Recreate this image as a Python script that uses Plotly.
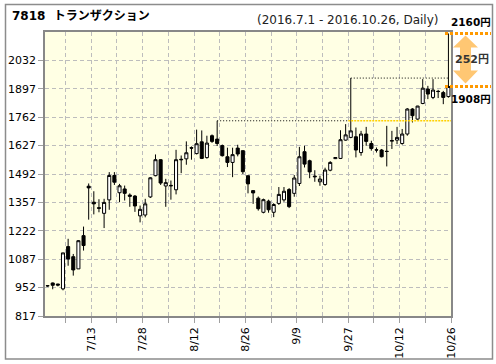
import numpy as np
import plotly.graph_objects as go

# ---------------- data ----------------
dates = ["7/1", "7/4", "7/5", "7/6", "7/7", "7/8", "7/11", "7/12", "7/13", "7/14", "7/15",
         "7/19", "7/20", "7/21", "7/22", "7/25", "7/26", "7/27", "7/28", "7/29",
         "8/1", "8/2", "8/3", "8/4", "8/5", "8/8", "8/9", "8/10", "8/12", "8/15", "8/16",
         "8/17", "8/18", "8/19", "8/22", "8/23", "8/24", "8/25", "8/26", "8/29", "8/30", "8/31",
         "9/1", "9/2", "9/5", "9/6", "9/7", "9/8", "9/9", "9/12", "9/13", "9/14", "9/15",
         "9/16", "9/20", "9/21", "9/23", "9/26", "9/27", "9/28", "9/29", "9/30",
         "10/3", "10/4", "10/5", "10/6", "10/7", "10/11", "10/12", "10/13", "10/14",
         "10/17", "10/18", "10/19", "10/20", "10/21", "10/24", "10/25", "10/26"]

opens = [960, 974, 969, 946, 1147, 1099, 1041, 1199, 1434, 1358, 1332,
         1305, 1369, 1485, 1403, 1421, 1392, 1387, 1293, 1297,
         1383, 1484, 1560, 1435, 1438, 1417, 1562, 1564, 1617, 1589, 1645,
         1570, 1674, 1658, 1627, 1574, 1547, 1615, 1603, 1484, 1413, 1377,
         1310, 1363, 1310, 1352, 1369, 1418, 1400, 1447, 1598, 1555, 1482,
         1455, 1442, 1510, 1565, 1566, 1653, 1666, 1669, 1594,
         1682, 1637, 1607, 1606, 1600, 1648, 1653, 1637, 1682,
         1801, 1753, 1827, 1896, 1856, 1885, 1879, 1860]
highs = [964, 976, 970, 1117, 1184, 1112, 1178, 1242, 1447, 1410, 1372,
         1374, 1501, 1501, 1445, 1437, 1400, 1392, 1342, 1374,
         1477, 1585, 1562, 1469, 1461, 1607, 1580, 1647, 1623, 1703, 1699,
         1674, 1680, 1745, 1632, 1617, 1617, 1631, 1603, 1484, 1413, 1385,
         1375, 1370, 1353, 1430, 1430, 1425, 1487, 1621, 1626, 1560, 1510,
         1484, 1522, 1553, 1572, 1700, 1729, 1948, 1713, 1697,
         1716, 1650, 1618, 1611, 1721, 1697, 1716, 1706, 1805,
         1805, 1816, 1943, 1911, 1943, 1892, 1887, 2160]
lows = [956, 944, 958, 939, 1056, 1009, 1041, 1128, 1275, 1300, 1310,
        1235, 1322, 1440, 1358, 1366, 1336, 1312, 1262, 1286,
        1378, 1481, 1440, 1336, 1370, 1395, 1496, 1536, 1560, 1585, 1563,
        1565, 1640, 1625, 1575, 1525, 1477, 1576, 1492, 1400, 1350, 1318,
        1305, 1308, 1287, 1345, 1360, 1330, 1384, 1435, 1523, 1472, 1455,
        1436, 1436, 1505, 1563, 1563, 1650, 1662, 1571, 1579,
        1626, 1603, 1594, 1571, 1528, 1611, 1634, 1631, 1674,
        1737, 1750, 1824, 1848, 1848, 1853, 1824, 1855]
closes = [961, 963, 964, 1117, 1088, 1036, 1175, 1152, 1426, 1350, 1329,
          1357, 1485, 1453, 1436, 1400, 1386, 1340, 1324, 1350,
          1474, 1560, 1449, 1451, 1436, 1560, 1560, 1593, 1615, 1636, 1566,
          1639, 1647, 1637, 1579, 1547, 1584, 1587, 1503, 1445, 1402, 1327,
          1370, 1322, 1347, 1395, 1410, 1337, 1473, 1574, 1539, 1502, 1479,
          1468, 1511, 1547, 1570, 1655, 1678, 1697, 1606, 1682,
          1647, 1613, 1606, 1574, 1599, 1651, 1666, 1682, 1801,
          1769, 1815, 1900, 1872, 1891, 1884, 1856, 1908]

y_ticks = [817, 952, 1087, 1222, 1357, 1492, 1627, 1762, 1897, 2032]
title_text = "7818  トランザクション"
period_text = "(2016.7.1 - 2016.10.26, Daily)"
unit = "円"

# ---------------- figure ----------------
W, H = 496, 364
ML, MR, MT, MB = 45, 45, 32, 48
PW, PH = W - ML - MR, H - MT - MB


def px(xpix):
    return (xpix - ML) / PW


def py(ypix):
    return (H - MB - ypix) / PH


n = len(dates)
xi = list(range(n))
FONT = "Verdana, 'DejaVu Sans', 'Noto Sans CJK JP', sans-serif"

fig = go.Figure()

fig.add_trace(go.Candlestick(
    x=xi, open=opens, high=highs, low=lows, close=closes,
    increasing=dict(line=dict(color="black", width=1), fillcolor="white"),
    decreasing=dict(line=dict(color="black", width=1), fillcolor="black"),
    whiskerwidth=0, showlegend=False, hoverinfo="skip"))

# resistance lines derived from highs
hi = np.array(highs)
last = n - 1
i2 = int(np.argmax(hi[:last]))
i1 = int(np.argmax(hi[:i2]))
fig.add_trace(go.Scatter(x=[i1, i2 - 0.5], y=[highs[i1]] * 2, mode="lines",
                         line=dict(color="#000000", width=1, dash="1px,2px"),
                         hoverinfo="skip", showlegend=False))
fig.add_trace(go.Scatter(x=[i2 - 0.5, last + 0.5], y=[highs[i1]] * 2, mode="lines",
                         line=dict(color="#FFD000", width=1.5, dash="2px,1px"),
                         hoverinfo="skip", showlegend=False))
fig.add_trace(go.Scatter(x=[i2, last], y=[highs[i2]] * 2, mode="lines",
                         line=dict(color="#000000", width=1, dash="1px,2px"),
                         hoverinfo="skip", showlegend=False))

shapes = []
# outer frame
shapes.append(dict(type="rect", xref="paper", yref="paper",
                   x0=px(5.5), x1=px(492.5), y0=py(359), y1=py(4.5),
                   line=dict(color="#8C8C8C", width=1.5), fillcolor="rgba(0,0,0,0)", layer="above"))

ORANGE = "#FF9900"
hi_last, cl_last = highs[-1], closes[-1]
for v in (hi_last, cl_last):
    shapes.append(dict(type="line", xref="paper", yref="y", x0=px(445), x1=px(491),
                       y0=v, y1=v, line=dict(color=ORANGE, width=3, dash="3px,2px"), layer="above"))

# double-headed arrow between close and high
xc, hw, sw = px(465.5), 12.5 / PW, 5.5 / PW
top_tip, top_base = hi_last - 10, hi_last - 67
bot_base, bot_tip = cl_last + 76, cl_last + 14
path = (f"M {xc},{top_tip} L {xc + hw},{top_base} L {xc + sw},{top_base} "
        f"L {xc + sw},{bot_base} L {xc + hw},{bot_base} L {xc},{bot_tip} "
        f"L {xc - hw},{bot_base} L {xc - sw},{bot_base} L {xc - sw},{top_base} "
        f"L {xc - hw},{top_base} Z")
shapes.append(dict(type="path", xref="paper", yref="y", path=path,
                   fillcolor="rgba(255,153,0,0.55)", line=dict(width=0), layer="above"))

annotations = [
    dict(text=f"<b>{title_text}</b>", xref="paper", yref="paper", x=px(10), y=py(16),
         xanchor="left", yanchor="middle", showarrow=False,
         font=dict(family=FONT, size=12, color="black")),
    dict(text=period_text, xref="paper", yref="paper", x=px(440), y=py(20),
         xanchor="right", yanchor="middle", showarrow=False,
         font=dict(family=FONT, size=12, color="#222222")),
    dict(text=f"<b>{hi_last}{unit}</b>", xref="paper", yref="y", x=px(471), y=hi_last,
         yshift=11, xanchor="center", yanchor="middle", showarrow=False,
         font=dict(family=FONT, size=10.5, color="black")),
    dict(text=f"<b>{cl_last}{unit}</b>", xref="paper", yref="y", x=px(471), y=cl_last,
         yshift=-13, xanchor="center", yanchor="middle", showarrow=False,
         font=dict(family=FONT, size=10.5, color="black")),
    dict(text=f"<b>{hi_last - cl_last}{unit}</b>", xref="paper", yref="y", x=px(472),
         y=(hi_last + cl_last) / 2, xanchor="center", yanchor="middle", showarrow=False,
         font=dict(family=FONT, size=11, color="#333333")),
]

tick_idx = list(range(3, n, 5))
tickvals = [i + 0.5 for i in tick_idx]
ticktext = [dates[i] if (i - 8) % 10 == 0 else "" for i in tick_idx]

fig.update_layout(
    width=W, height=H, autosize=False, margin=dict(l=ML, r=MR, t=MT, b=MB, pad=0, autoexpand=False),
    paper_bgcolor="white", plot_bgcolor="#FFFFE4", showlegend=False,
    font=dict(family=FONT, size=11, color="black"),
    shapes=shapes, annotations=annotations, boxgap=0.15,
    xaxis=dict(range=[-0.5, n - 0.5], tickmode="array", tickvals=tickvals, ticktext=ticktext,
               tickangle=-90, ticks="outside", ticklen=5, tickcolor="#A0A0A0", automargin=False,
               showgrid=True, gridcolor="#BDBDBD", griddash="4px,3px", gridwidth=1,
               showline=True, linecolor="#888888", linewidth=1.5, mirror=True,
               zeroline=False, rangeslider=dict(visible=False), fixedrange=True,
               tickfont=dict(family=FONT, size=11, color="black")),
    yaxis=dict(range=[817, 2167], tickmode="array", tickvals=y_ticks, automargin=False,
               ticks="outside", ticklen=5, tickcolor="#A0A0A0",
               showgrid=True, gridcolor="#BDBDBD", griddash="4px,3px", gridwidth=1,
               showline=True, linecolor="#888888", linewidth=1.5, mirror=True,
               zeroline=False, fixedrange=True,
               tickfont=dict(family=FONT, size=11, color="black")),
)

fig.write_html("out.html", config={"displayModeBar": False},
               post_script="document.body.style.margin='0px';document.body.style.overflow='hidden';")
